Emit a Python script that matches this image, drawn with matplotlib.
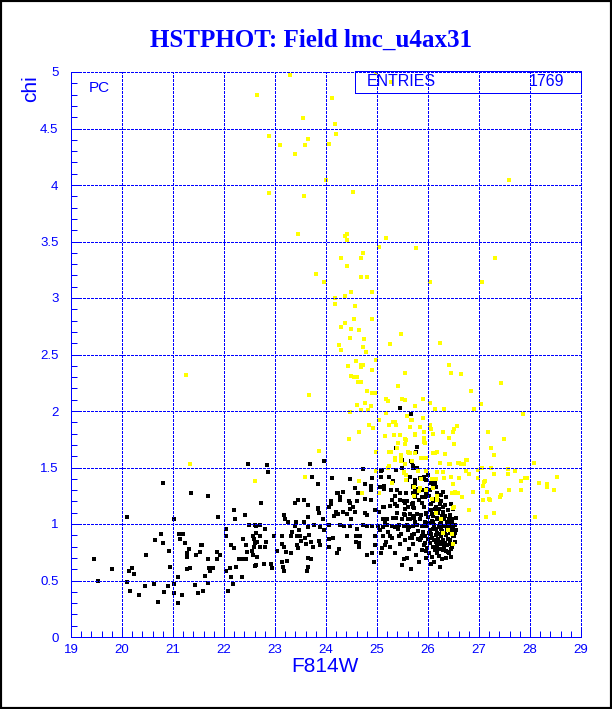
import numpy as np
import matplotlib
matplotlib.use("Agg")
import matplotlib.pyplot as plt
from matplotlib.patches import Rectangle
from matplotlib.ticker import MultipleLocator, FixedLocator, FuncFormatter

# ---------------- data (F814W magnitude, chi) ----------------
title = "HSTPHOT: Field lmc_u4ax31"
xlabel = "F814W"
ylabel = "chi"
entries_label = "ENTRIES"
entries_value = "1769"
x_ticks = [19, 20, 21, 22, 23, 24, 25, 26, 27, 28, 29]
y_ticks = [0, 0.5, 1, 1.5, 2, 2.5, 3, 3.5, 4, 4.5, 5]

black_faint = [
    (19.45, 0.69), (19.52, 0.50), (19.81, 0.60), (20.09, 1.06), (20.10, 0.49), (20.13, 0.58),
    (20.19, 0.61), (20.23, 0.56), (20.16, 0.41), (20.34, 0.37), (20.46, 0.45), (20.47, 0.73),
    (20.62, 0.47), (20.64, 0.86), (20.70, 0.31), (20.76, 0.91), (20.80, 1.36), (20.80, 0.83),
    (20.82, 0.40), (20.90, 0.45), (20.92, 0.76), (20.94, 0.62), (21.01, 1.04), (21.01, 0.47),
    (21.01, 0.39), (21.10, 0.53), (21.09, 0.30), (21.11, 0.91), (21.14, 0.87), (21.19, 0.91),
    (21.17, 0.37), (21.23, 0.83), (21.27, 0.74), (21.27, 0.71), (21.27, 0.60), (21.31, 0.78),
    (21.33, 0.61), (21.35, 1.27), (21.44, 0.46), (21.45, 0.73), (21.50, 0.39), (21.52, 0.75),
    (21.55, 0.81), (21.57, 0.81), (21.58, 0.41), (21.62, 0.54), (21.68, 1.25), (21.69, 0.69),
    (21.70, 0.61), (21.69, 0.48), (21.72, 0.58), (21.79, 0.61), (21.86, 0.75), (21.86, 0.69),
    (21.88, 1.06), (21.93, 0.73), (22.03, 0.96), (22.03, 0.89), (22.03, 0.58), (22.08, 0.41),
    (22.11, 0.61), (22.13, 0.81), (22.13, 0.53), (22.17, 0.47), (22.19, 1.12), (22.20, 0.79),
    (22.22, 1.04), (22.24, 0.62), (22.29, 0.69), (22.35, 0.53), (22.35, 0.69), (22.37, 0.87),
    (22.41, 1.08), (22.43, 0.81), (22.43, 0.69), (22.46, 0.75), (22.48, 1.53), (22.50, 0.99),
    (22.54, 0.76), (22.56, 0.89), (22.58, 0.87), (22.60, 0.83), (22.61, 0.63), (22.63, 0.98),
]

black_mid = [
    (22.84, 1.52), (22.86, 1.46), (23.69, 1.53), (23.96, 1.56), (23.73, 1.42), (23.85, 1.35),
    (24.11, 1.41), (24.48, 1.40), (24.72, 1.49), (25.10, 1.48), (25.37, 1.48), (25.08, 1.42),
    (25.76, 1.50), (24.76, 1.35), (24.89, 1.34), (24.56, 1.32), (24.23, 1.27), (24.34, 1.28),
    (24.27, 1.21), (24.09, 1.20), (24.10, 1.18), (24.47, 1.19), (24.60, 1.20), (24.62, 1.27),
    (22.73, 1.19), (23.40, 1.19), (23.46, 1.21), (23.57, 1.21), (23.65, 1.17), (23.85, 1.13),
    (23.87, 1.10), (23.65, 1.06), (23.94, 1.04), (24.20, 1.11), (24.24, 1.09), (24.34, 1.11),
    (24.48, 1.13), (24.42, 1.09), (24.56, 1.11), (24.50, 1.04), (24.77, 1.10), (24.80, 1.08),
    (24.97, 1.12), (25.12, 1.15), (25.25, 1.16), (25.39, 1.16), (25.54, 1.19), (25.58, 1.20),
    (25.70, 1.19), (25.73, 1.14), (25.29, 1.21), (25.35, 1.25), (25.46, 1.27), (25.57, 1.27),
    (25.71, 1.27), (25.39, 1.30), (25.74, 1.35), (25.76, 1.31), (25.13, 1.34), (25.24, 1.42),
    (24.16, 1.07), (24.05, 1.15), (23.18, 1.08), (23.20, 1.04), (23.25, 1.02), (23.42, 1.02),
    (23.56, 1.02), (23.40, 0.98), (23.33, 0.93), (23.48, 0.95), (23.64, 0.97), (23.77, 0.99),
    (23.88, 0.97), (23.66, 0.90), (23.59, 0.88), (23.50, 0.89), (23.43, 0.89), (23.31, 0.89),
    (23.14, 0.89), (22.99, 0.89), (22.81, 0.96), (22.71, 0.99), (22.60, 0.99), (22.63, 0.92),
    (22.57, 0.89), (22.71, 0.89), (22.82, 0.84), (22.81, 0.80), (22.71, 0.80), (22.65, 0.84),
    (22.59, 0.80), (22.55, 0.76), (22.57, 0.73), (22.65, 0.71), (22.63, 0.64), (22.78, 0.65),
    (22.93, 0.65), (22.94, 0.61), (23.03, 0.76), (23.13, 0.82), (23.18, 0.80), (23.21, 0.75),
    (23.31, 0.74), (23.23, 0.67), (23.14, 0.66), (23.16, 0.62), (23.17, 0.58), (23.43, 0.81),
    (23.45, 0.79), (23.51, 0.85), (23.61, 0.82), (23.71, 0.84), (23.74, 0.80), (23.87, 0.85),
    (23.88, 0.81), (23.64, 0.70), (23.71, 0.69), (23.65, 0.62), (23.63, 0.58), (24.21, 0.74),
    (24.06, 0.80), (24.06, 0.87), (24.14, 0.88), (24.25, 0.78), (24.41, 0.89), (24.59, 0.89),
    (24.58, 0.84), (24.64, 0.83), (24.64, 0.80), (24.67, 0.89), (24.81, 0.73), (24.91, 0.74),
    (24.95, 0.66), (24.96, 0.81), (24.97, 0.89), (25.09, 0.79), (25.07, 0.74), (25.12, 0.89),
    (25.15, 0.81), (25.18, 0.84), (25.25, 0.89), (25.43, 0.89), (25.52, 0.69), (25.54, 0.86),
    (25.64, 0.88), (25.69, 0.88), (25.80, 0.87), (24.06, 0.99), (23.97, 0.95), (24.27, 0.99),
    (24.35, 0.98), (24.47, 0.98), (24.61, 0.96), (24.73, 0.99), (24.81, 0.98), (24.90, 0.98),
    (25.02, 0.98), (25.11, 0.97), (25.20, 0.99), (25.29, 0.98), (25.36, 0.97), (25.44, 0.99),
    (25.55, 0.98), (25.63, 0.97), (25.71, 0.98), (25.78, 0.99), (25.12, 1.04), (25.20, 1.04),
    (25.32, 1.05), (25.50, 1.04), (25.61, 1.04), (25.73, 1.05), (25.39, 1.10), (25.52, 1.09),
    (25.65, 1.09), (25.03, 1.11),
    (25.46, 2.03), (25.67, 1.97), (25.37, 1.67), (25.78, 1.68), (25.76, 1.64), (25.69, 1.55),
    (25.71, 1.50), (25.49, 1.57), (25.49, 1.50), (25.65, 1.42), (25.75, 1.39), (25.71, 1.34),
    (25.82, 1.31), (25.78, 1.27), (25.66, 1.56), (25.70, 1.51), (25.78, 1.50), (25.07, 1.47),
    (24.12, 1.41), (24.90, 1.41), (25.32, 1.38), (25.59, 1.39), (25.84, 1.41), (25.90, 1.40),
    (25.97, 1.39), (24.89, 1.30), (25.06, 1.33), (25.14, 1.31), (25.28, 1.30), (24.57, 1.32),
    (25.70, 1.33), (25.75, 1.31), (25.86, 1.30), (25.91, 1.30), (24.22, 1.27), (24.27, 1.24),
    (24.45, 1.20), (24.76, 1.22), (24.89, 1.21), (25.36, 1.18), (25.46, 1.21), (25.58, 1.20),
    (25.74, 1.24), (25.83, 1.21), (23.84, 1.14), (24.52, 1.15), (25.14, 1.15), (25.71, 1.15),
    (25.05, 0.95), (25.15, 1.02), (25.22, 0.93), (25.30, 0.88), (25.38, 1.05), (25.42, 0.96),
    (25.48, 0.91), (25.55, 1.08), (25.60, 0.95), (25.68, 0.90), (25.75, 1.02), (25.80, 0.94),
    (25.45, 0.82), (25.62, 0.78), (25.70, 0.82), (25.25, 0.80), (25.35, 0.74), (25.58, 0.70),
    (25.76, 0.73), (25.82, 0.66), (25.50, 0.64), (25.66, 0.60),
]

black_clump = [
    (25.88, 1.24), (25.97, 1.27), (26.04, 1.30), (26.10, 1.34), (25.92, 1.42), (26.00, 1.43),
    (26.08, 1.40), (26.13, 1.36), (26.25, 1.26), (26.20, 1.21), (26.16, 1.15), (26.22, 1.13),
    (26.29, 1.11), (26.34, 1.07), (26.41, 1.04), (26.45, 0.99), (26.50, 0.96), (26.10, 1.07),
    (26.17, 1.04), (26.04, 1.01), (26.24, 1.00), (26.30, 0.98), (26.37, 0.95), (26.10, 0.96),
    (26.17, 0.92), (26.26, 0.89), (26.35, 0.90), (26.43, 0.86), (26.08, 0.88), (26.16, 0.84),
    (26.26, 0.82), (26.37, 0.81), (26.45, 0.78), (26.30, 0.77), (26.18, 0.74), (26.06, 0.65),
    (25.97, 0.76), (25.94, 0.83), (26.01, 0.92), (25.91, 0.98), (25.84, 1.04), (25.78, 1.09),
    (25.71, 1.07), (25.65, 1.04), (25.58, 0.99), (25.53, 0.98), (25.65, 0.88), (25.73, 0.91),
    (25.84, 0.86), (25.88, 0.89), (25.54, 1.13), (25.60, 1.15), (25.69, 1.18), (25.52, 1.20),
    (26.10, 1.20), (26.05, 1.12), (25.97, 1.09), (26.24, 1.18), (26.30, 1.15), (26.37, 1.02),
    (26.48, 1.01), (26.51, 0.89), (26.43, 0.92), (26.13, 0.80), (26.21, 0.78), (26.39, 0.75),
    (26.02, 1.25), (26.06, 1.18), (26.12, 1.22), (26.18, 1.27), (26.26, 1.20), (26.33, 1.17),
    (26.40, 1.12), (26.44, 1.08), (26.48, 1.04), (26.52, 0.99), (25.92, 1.15), (25.96, 1.10),
    (26.00, 1.06), (26.04, 1.12), (26.08, 1.09), (26.14, 1.13), (26.20, 1.10), (26.27, 1.07),
    (26.32, 1.04), (26.38, 1.00), (25.94, 1.02), (25.99, 0.98), (26.03, 0.95), (26.07, 1.03),
    (26.12, 0.99), (26.15, 0.96), (26.21, 0.97), (26.25, 1.02), (26.28, 0.94), (26.34, 0.92),
    (26.41, 0.96), (26.46, 0.93), (26.49, 0.89), (26.53, 0.92), (25.90, 0.93), (25.95, 0.89),
    (26.00, 0.87), (26.05, 0.91), (26.11, 0.86), (26.15, 0.90), (26.19, 0.87), (26.23, 0.84),
    (26.29, 0.86), (26.33, 0.83), (26.39, 0.87), (26.44, 0.82), (26.48, 0.80), (25.93, 0.81),
    (25.99, 0.79), (26.04, 0.83), (26.09, 0.80), (26.13, 0.77), (26.18, 0.81), (26.24, 0.78),
    (26.31, 0.80), (26.36, 0.76), (26.41, 0.74), (26.02, 0.74), (26.08, 0.71), (26.22, 0.72),
    (26.28, 0.69), (26.35, 0.70), (26.12, 0.66), (26.24, 0.62), (25.97, 0.70), (26.46, 0.71),
    (26.52, 0.84), (26.55, 0.95), (26.55, 1.05), (26.50, 1.13), (26.45, 1.18), (26.36, 1.24),
    (26.30, 1.28), (26.16, 1.33), (26.06, 1.36), (25.98, 1.31), (25.94, 1.24), (25.88, 1.19),
    (25.86, 1.08), (25.88, 0.98), (25.87, 0.88), (25.89, 0.77), (26.10, 1.02), (26.17, 1.05),
    (26.23, 0.91), (26.37, 0.98), (26.42, 1.03), (26.30, 1.11), (26.02, 1.01), (26.26, 0.96),
]

yellow_pts = [
    (21.33, 1.53), (22.60, 1.38), (21.25, 2.32), (28.10, 1.06),
    (24.84, 1.88), (24.93, 1.85), (25.03, 1.92), (24.64, 1.81), (24.46, 1.75), (23.86, 1.65),
    (23.59, 1.42), (24.98, 1.64), (25.16, 1.78), (25.24, 1.88), (25.32, 1.90), (25.37, 1.88),
    (25.34, 1.79), (25.46, 1.79), (25.41, 1.72), (25.54, 1.75), (25.55, 1.71), (25.65, 1.86),
    (25.69, 1.92), (25.74, 1.79), (25.24, 1.64), (25.27, 1.64), (25.39, 1.67), (25.47, 1.61),
    (25.60, 1.64), (25.65, 1.63), (25.74, 1.63), (25.35, 1.58), (25.48, 1.56), (25.55, 1.53),
    (25.69, 1.56), (25.22, 1.50), (25.52, 1.45), (25.57, 1.39), (25.73, 1.33), (24.65, 1.38),
    (24.71, 1.27), (25.04, 1.27), (25.30, 1.36), (25.73, 1.25), (25.82, 1.29),
    (26.84, 2.18), (25.50, 2.11), (25.54, 2.10), (25.90, 2.11), (25.74, 2.04), (26.04, 2.07),
    (26.13, 2.02), (26.31, 2.02), (26.90, 2.02), (27.03, 2.06), (25.59, 1.96), (25.67, 1.92),
    (25.91, 1.94), (25.65, 1.86), (25.84, 1.86), (26.04, 1.88), (26.05, 1.84), (26.56, 1.87),
    (26.51, 1.84), (26.09, 1.80), (26.29, 1.81), (26.50, 1.81), (27.18, 1.81), (25.75, 1.80),
    (25.54, 1.75), (25.93, 1.76), (25.92, 1.73), (26.41, 1.76), (26.51, 1.71), (25.54, 1.71),
    (25.65, 1.63), (26.09, 1.63), (26.17, 1.64), (26.33, 1.62), (25.86, 1.58), (25.96, 1.58),
    (27.23, 1.67), (27.29, 1.61), (26.76, 1.57), (26.24, 1.54), (26.42, 1.53), (26.60, 1.54),
    (26.68, 1.53), (27.06, 1.50), (27.23, 1.50), (26.75, 1.47), (25.80, 1.47), (25.97, 1.47),
    (26.17, 1.46), (26.30, 1.46), (27.29, 1.44), (25.87, 1.40), (26.07, 1.40), (26.16, 1.40),
    (26.31, 1.41), (26.45, 1.42), (26.60, 1.41), (26.99, 1.41), (27.12, 1.38), (27.07, 1.34),
    (26.10, 1.32), (25.84, 1.32), (26.50, 1.35), (26.59, 1.27), (26.48, 1.27), (26.67, 1.24),
    (25.96, 1.30), (26.18, 1.25), (26.08, 1.22), (27.07, 1.21), (27.20, 1.22), (26.80, 1.12),
    (26.51, 1.15), (27.29, 1.10), (27.14, 1.06), (26.17, 1.21), (26.26, 1.04), (26.39, 0.95),
    (26.47, 0.91), (26.50, 0.82), (26.30, 0.92), (26.16, 1.10),
    (23.29, 4.97), (22.64, 4.80), (24.12, 4.77), (24.99, 4.99), (25.27, 4.91), (23.54, 4.59),
    (24.17, 4.54), (24.20, 4.45), (22.88, 4.43), (23.65, 4.41), (23.10, 4.35), (23.58, 4.35),
    (24.05, 4.36), (23.39, 4.27), (27.58, 4.04), (24.00, 4.04), (22.88, 3.93), (23.57, 3.90),
    (24.52, 3.94), (23.46, 3.57), (24.41, 3.57), (24.37, 3.55), (24.41, 3.51), (25.18, 3.53),
    (25.03, 3.45), (25.76, 3.44), (24.29, 3.35), (24.72, 3.40), (24.68, 3.35), (24.42, 3.28),
    (27.31, 3.35),
    (23.80, 3.21), (24.68, 3.19), (24.80, 3.19), (23.96, 3.14), (26.04, 3.14), (27.06, 3.14),
    (24.49, 3.05), (24.90, 3.05), (24.37, 3.02), (24.17, 3.00), (24.17, 2.95), (24.56, 2.93),
    (24.37, 2.78), (24.55, 2.81), (24.90, 2.81), (24.29, 2.74), (24.49, 2.73), (24.64, 2.72),
    (25.48, 2.68), (24.48, 2.65), (24.75, 2.64), (25.25, 2.59), (26.24, 2.60), (24.25, 2.58),
    (24.72, 2.57), (24.29, 2.54), (24.78, 2.52), (24.99, 2.45), (24.58, 2.44), (24.68, 2.41),
    (24.73, 2.41), (24.44, 2.40), (24.69, 2.39), (24.91, 2.36), (26.41, 2.41), (26.45, 2.34),
    (26.64, 2.33), (25.54, 2.34), (24.49, 2.31), (24.54, 2.30), (24.60, 2.30), (24.63, 2.26),
    (24.68, 2.26), (27.43, 2.25), (25.41, 2.22), (23.67, 2.14), (24.80, 2.18), (24.91, 2.16),
    (24.96, 2.16), (25.18, 2.11), (24.76, 2.07), (24.89, 2.04), (24.60, 2.05), (25.21, 2.09),
    (24.48, 1.99), (24.68, 2.01), (24.82, 2.01), (25.18, 1.98), (27.86, 1.97), (25.36, 1.90),
    (25.23, 1.88), (27.50, 1.75), (25.56, 1.74), (25.92, 1.81), (26.03, 1.87), (25.95, 1.72),
    (25.62, 1.63), (26.14, 1.63), (25.24, 1.51), (25.35, 1.57), (25.48, 1.58), (25.95, 1.58),
    (26.24, 1.54), (26.43, 1.53), (26.59, 1.54), (26.71, 1.53), (26.75, 1.57), (24.64, 1.38),
    (26.65, 1.53), (26.55, 1.27), (26.52, 1.28), (26.59, 1.27), (26.50, 1.14), (25.53, 1.46),
    (25.57, 1.43), (27.30, 1.61), (28.08, 1.54), (26.99, 1.48), (27.10, 1.37), (27.29, 1.44),
    (27.57, 1.49), (27.70, 1.47), (27.56, 1.44), (27.82, 1.38), (27.91, 1.41), (27.95, 1.41),
    (28.17, 1.36), (28.34, 1.35), (28.33, 1.33), (28.52, 1.42), (28.48, 1.30), (27.83, 1.30),
    (27.58, 1.30), (27.44, 1.26), (27.41, 1.24), (27.22, 1.21), (27.07, 1.21), (27.15, 1.28),
    (26.89, 1.28), (26.80, 1.44), (23.58, 1.42), (24.99, 1.47),
]

# ---------------- figure ----------------
BLUE = (0, 0, 1)
W, H, DPI = 612, 709, 100
fig = plt.figure(figsize=(W / DPI, H / DPI), dpi=DPI, facecolor="white")

L, R, T, B = 71, 581, 72, 637
ax = fig.add_axes([L / W, 1 - B / H, (R - L) / W, (B - T) / H])
ax.set_facecolor("white")
ax.set_xlim(19, 29)
ax.set_ylim(0, 5)

blk = np.array(black_faint + black_mid + black_clump)
yel = np.array(yellow_pts)
ax.scatter(blk[:, 0], blk[:, 1], s=5.2, marker="s", c="black", linewidths=0,
           antialiased=False, zorder=3)
ax.scatter(yel[:, 0], yel[:, 1], s=5.2, marker="s", c=[(1, 1, 0)], linewidths=0,
           antialiased=False, zorder=4)

# grid (dotted blue)
grid_style = dict(color=BLUE, linewidth=0.72, linestyle=(0, (2.6, 1.4)), zorder=5,
                  antialiased=False)
for xv in x_ticks[1:]:
    ax.axvline(xv, clip_on=False, **grid_style)
for yv in y_ticks[1:]:
    ax.axhline(yv, clip_on=False, **grid_style)

for s in ["top", "right"]:
    ax.spines[s].set_visible(False)
for s in ["left", "bottom"]:
    ax.spines[s].set_color(BLUE)
    ax.spines[s].set_linewidth(0.72)
    ax.spines[s].set_antialiased(False)
    ax.spines[s].set_zorder(6)

ax.xaxis.set_major_locator(FixedLocator(x_ticks))
ax.yaxis.set_major_locator(FixedLocator(y_ticks))
ax.xaxis.set_minor_locator(MultipleLocator(0.2))
ax.yaxis.set_minor_locator(MultipleLocator(0.1))
ax.xaxis.set_major_formatter(FuncFormatter(lambda v, p: f"{v:g}"))
ax.yaxis.set_major_formatter(FuncFormatter(lambda v, p: f"{v:g}"))
tick_font = "Liberation Sans"
ax.tick_params(which="both", direction="in", colors=BLUE, top=False, right=False,
               width=0.72)
ax.tick_params(which="major", length=7)
ax.tick_params(which="minor", length=4)
ax.tick_params(axis="x", which="major", pad=5, labelsize=9.5)
ax.tick_params(axis="y", which="major", pad=9, labelsize=9.5)
for lab in ax.get_xticklabels() + ax.get_yticklabels():
    lab.set_family(tick_font)
    lab.set_color(BLUE)

# title and axis titles
fig.text(311 / W, 1 - 40 / H, title, ha="center", va="center", color=BLUE,
         fontsize=18, fontweight="bold", family="Liberation Serif")
fig.text(325 / W, 1 - 667 / H, xlabel, ha="center", va="center", color=BLUE,
         fontsize=15, family="Liberation Sans")
fig.text(31 / W, 1 - 75 / H, ylabel, ha="center", va="top", rotation=90, color=BLUE,
         fontsize=15, family="Liberation Sans")

# "PC" label
fig.text(99 / W, 1 - 88 / H, "PC", ha="center", va="center", color=BLUE,
         fontsize=11, family="Liberation Sans")

# stats box
bx0, bx1, by0, by1 = 355, 581, 71, 93
fig.patches.append(Rectangle((bx0 / W, 1 - by1 / H), (bx1 - bx0) / W, (by1 - by0) / H,
                             transform=fig.transFigure, fill=False, edgecolor=BLUE,
                             linewidth=0.72, antialiased=False, zorder=10))
fig.text(367 / W, 1 - 82 / H, entries_label, ha="left", va="center", color=BLUE,
         fontsize=11.5, family="Liberation Sans")
fig.text(564 / W, 1 - 82 / H, entries_value, ha="right", va="center", color=BLUE,
         fontsize=11.5, family="Liberation Sans")

# outer black frame
fig.patches.append(Rectangle((0, 0), 1, 1, transform=fig.transFigure, fill=False,
                             edgecolor="black", linewidth=3, zorder=20))

fig.savefig("out.png", dpi=DPI, facecolor="white")
